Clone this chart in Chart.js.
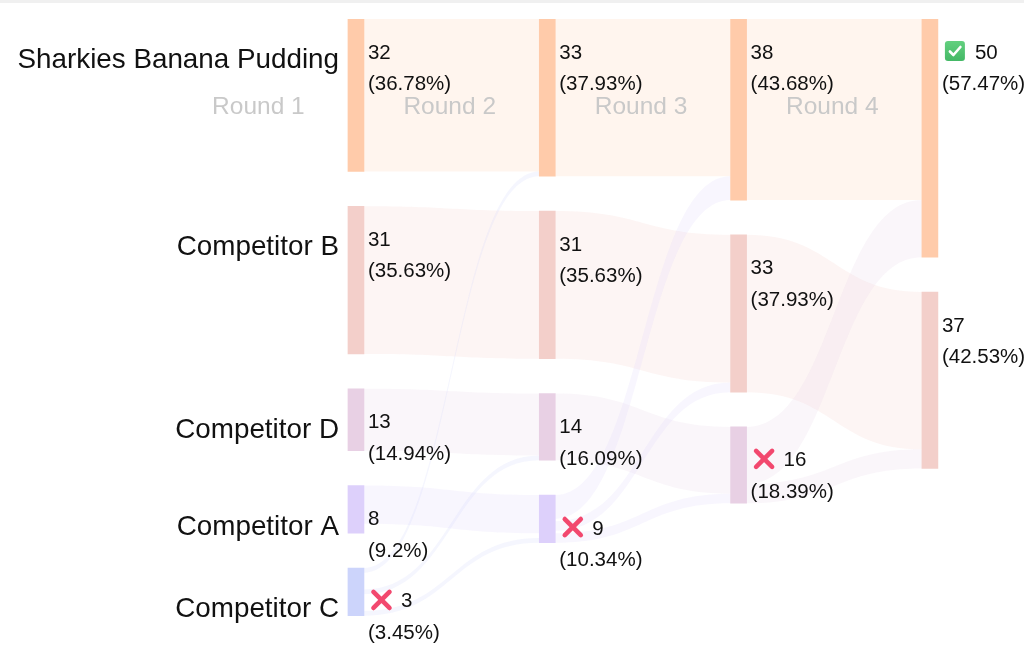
<!DOCTYPE html>
<html><head><meta charset="utf-8">
<script src="https://cdn.jsdelivr.net/npm/chart.js@4.4.1/dist/chart.umd.min.js"></script>
<style>
html,body{margin:0;padding:0;background:#fff;}
#wrap{position:relative;width:1024px;height:647px;}
#topbar{position:absolute;left:0;top:0;width:1024px;height:3px;background:#f0f0f0;}
</style></head><body>
<div id="wrap"><canvas id="c"></canvas><div id="topbar"></div></div>
<script>
// ---- data ----
const rounds = ['Round 1', 'Round 2', 'Round 3', 'Round 4'];
const candidates = ['Sharkies Banana Pudding', 'Competitor B', 'Competitor D', 'Competitor A', 'Competitor C'];
const votesRound1 = [32, 31, 13, 8, 3];
const votesRound2 = [33, 31, 14, 9, null];
const votesRound3 = [38, 33, 16, null, null];
const votesRound4 = [50, 37, null, null, null];
// transfers: [fromCandidate, toCandidate, votes]
const transfersRound1to2 = [[4, 0, 1], [4, 2, 1], [4, 3, 1]];
const transfersRound2to3 = [[3, 0, 5], [3, 1, 2], [3, 2, 2]];
const transfersRound3to4 = [[2, 0, 12], [2, 1, 4]];

// ---- styles ----
const nodeColors = ['#ffcbaa', '#f3cfca', '#e8d0e4', '#ddd0fb', '#ccd4fb'];
const BAR_W = 16;
const GAP = 7.3;       // gap between nodes, in vote units
const MIN_NODE = 10;   // minimum node height, in vote units
const FLOW_ALPHA = 0.2;
const FONT = '"Liberation Sans", Arial, sans-serif';

const votesByRound = [votesRound1, votesRound2, votesRound3, votesRound4];
const transfersByRound = [transfersRound1to2, transfersRound2to3, transfersRound3to4];
const totalVotes = votesRound1.reduce((a, b) => a + (b || 0), 0);

// ---- layout in vote units ----
const nodes = votesByRound.map(vs => {
  let yy = 0;
  return vs.map(v => {
    if (v == null) return null;
    const h = Math.max(v, MIN_NODE);
    const n = { top: yy, h: h, votes: v };
    yy += h + GAP;
    return n;
  });
});

function stack(list, node, key) {
  const sum = list.reduce((a, f) => a + f.v, 0);
  const extra = list.length > 1 ? Math.max(0, node.h - sum) / (list.length - 1) : 0;
  let off = 0;
  list.forEach(f => { f[key] = node.top + off; off += f.v + extra; });
}

const flows = [];
transfersByRound.forEach((tr, r) => {
  const list = [];
  votesByRound[r].forEach((v, c) => {
    if (v != null && votesByRound[r + 1][c] != null) list.push({ from: c, to: c, v: v, round: r });
  });
  tr.forEach(t => list.push({ from: t[0], to: t[1], v: t[2], round: r }));
  candidates.forEach((_, c) => {
    const out = list.filter(f => f.from === c).sort((a, b) => a.to - b.to);
    if (out.length) stack(out, nodes[r][c], 'sTop');
    const inc = list.filter(f => f.to === c).sort((a, b) => a.from - b.from);
    if (inc.length) stack(inc, nodes[r + 1][c], 'tTop');
  });
  flows.push(...list);
});

function rgba(hex, a) {
  const n = parseInt(hex.slice(1), 16);
  return `rgba(${(n >> 16) & 255},${(n >> 8) & 255},${n & 255},${a})`;
}
function pct(v) {
  return parseFloat((v / totalVotes * 100).toFixed(2)) + '%';
}

const datasets = candidates.map((name, c) => ({
  label: name,
  data: votesByRound.map((vs, r) => nodes[r][c] ? { x: r, y: [nodes[r][c].top, nodes[r][c].top + nodes[r][c].h] } : null).filter(Boolean),
  backgroundColor: nodeColors[c],
  borderWidth: 0,
  barThickness: BAR_W,
  grouped: false
}));

function drawX(ctx, cx, cy) {
  ctx.save();
  ctx.strokeStyle = '#f2486e';
  ctx.lineWidth = 4.6;
  ctx.lineCap = 'round';
  ctx.beginPath();
  ctx.moveTo(cx - 8, cy - 8); ctx.lineTo(cx + 8, cy + 8);
  ctx.moveTo(cx + 8, cy - 8); ctx.lineTo(cx - 8, cy + 8);
  ctx.stroke();
  ctx.restore();
}
function drawCheck(ctx, cx, cy) {
  ctx.save();
  const s = 20, x0 = cx - s / 2, y0 = cy - s / 2, rr = 3;
  ctx.beginPath();
  ctx.moveTo(x0 + rr, y0); ctx.lineTo(x0 + s - rr, y0); ctx.quadraticCurveTo(x0 + s, y0, x0 + s, y0 + rr);
  ctx.lineTo(x0 + s, y0 + s - rr); ctx.quadraticCurveTo(x0 + s, y0 + s, x0 + s - rr, y0 + s);
  ctx.lineTo(x0 + rr, y0 + s); ctx.quadraticCurveTo(x0, y0 + s, x0, y0 + s - rr);
  ctx.lineTo(x0, y0 + rr); ctx.quadraticCurveTo(x0, y0, x0 + rr, y0);
  const g = ctx.createLinearGradient(0, y0, 0, y0 + s);
  g.addColorStop(0, '#63d07f'); g.addColorStop(1, '#44b866');
  ctx.fillStyle = g; ctx.fill();
  ctx.strokeStyle = '#ffffff'; ctx.lineWidth = 2.6; ctx.lineCap = 'round'; ctx.lineJoin = 'round';
  ctx.beginPath();
  ctx.moveTo(cx - 5, cy + 0.5); ctx.lineTo(cx - 1.5, cy + 4); ctx.lineTo(cx + 5.5, cy - 4);
  ctx.stroke();
  ctx.restore();
}

const sankeyPlugin = {
  id: 'sankeyFlows',
  beforeDatasetsDraw(chart) {
    const { ctx, scales: { x, y } } = chart;
    ctx.save();
    flows.forEach(f => {
      const x0 = x.getPixelForValue(f.round) + BAR_W / 2;
      const x1 = x.getPixelForValue(f.round + 1) - BAR_W / 2;
      const a0 = y.getPixelForValue(f.sTop), b0 = y.getPixelForValue(f.sTop + f.v);
      const a1 = y.getPixelForValue(f.tTop), b1 = y.getPixelForValue(f.tTop + f.v);
      const mx = (x0 + x1) / 2;
      ctx.fillStyle = rgba(nodeColors[f.from], FLOW_ALPHA);
      ctx.beginPath();
      ctx.moveTo(x0, a0);
      ctx.bezierCurveTo(mx, a0, mx, a1, x1, a1);
      ctx.lineTo(x1, b1);
      ctx.bezierCurveTo(mx, b1, mx, b0, x0, b0);
      ctx.closePath();
      ctx.fill();
    });
    ctx.restore();
  },
  afterDatasetsDraw(chart) {
    const { ctx, scales: { x, y }, chartArea } = chart;
    ctx.save();
    ctx.font = '24.5px ' + FONT;
    ctx.fillStyle = '#c9c9c9';
    ctx.textAlign = 'center';
    ctx.textBaseline = 'alphabetic';
    rounds.forEach((r, i) => {
      ctx.fillText(r, x.getPixelForValue(i - 0.51), chartArea.top + 95);
    });
    ctx.font = '27.8px ' + FONT;
    ctx.fillStyle = '#111111';
    ctx.textAlign = 'right';
    candidates.forEach((name, c) => {
      const n = nodes[0][c];
      ctx.fillText(name, x.getPixelForValue(0) - BAR_W / 2 - 9, y.getPixelForValue(n.top) + 49);
    });
    ctx.font = '20.5px ' + FONT;
    ctx.textAlign = 'left';
    const last = votesByRound.length - 1;
    votesByRound.forEach((vs, r) => {
      const maxV = Math.max(...vs.filter(v => v != null));
      vs.forEach((v, c) => {
        if (v == null) return;
        const n = nodes[r][c];
        const right = x.getPixelForValue(r) + BAR_W / 2;
        const top = y.getPixelForValue(n.top);
        let tx = right + 4;
        if (r === last && v === maxV) {
          drawCheck(ctx, right + 17, top + 32);
          tx = right + 37;
        } else if (r < last && votesByRound[r + 1][c] == null) {
          drawX(ctx, right + 17.5, top + 32);
          tx = right + 37;
        }
        ctx.fillStyle = '#111111';
        ctx.fillText(String(v), tx, top + 39.5);
        ctx.fillText('(' + pct(v) + ')', right + 4, top + 71);
      });
    });
    ctx.restore();
  }
};

new Chart(document.getElementById('c'), {
  type: 'bar',
  data: { datasets: datasets },
  options: {
    responsive: true,
    maintainAspectRatio: false,
    animation: false,
    layout: { padding: { left: 69, right: 8, top: 19, bottom: 8.5 } },
    plugins: { legend: { display: false }, tooltip: { enabled: false } },
    scales: {
      x: { type: 'linear', min: -1.5, max: 3.45, offset: false, display: false },
      y: { min: 0, max: 130, reverse: true, display: false }
    }
  },
  plugins: [sankeyPlugin]
});
</script>
</body></html>
